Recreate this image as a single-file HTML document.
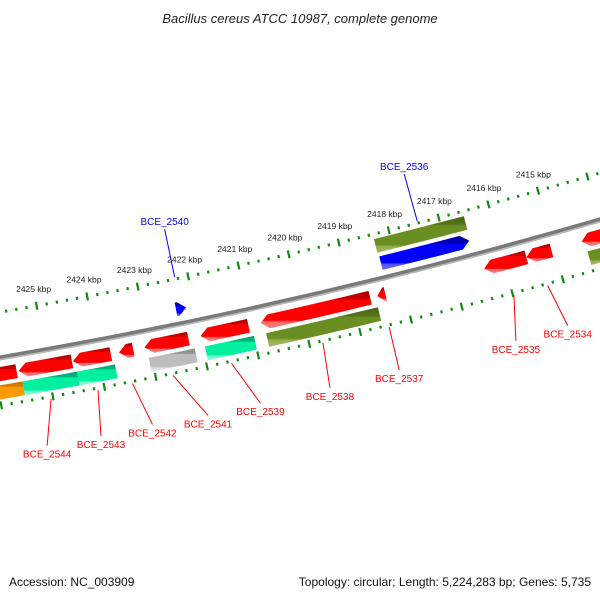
<!DOCTYPE html>
<html><head><meta charset="utf-8"><style>
html,body{margin:0;padding:0;background:#fff;}
svg{display:block;font-family:"Liberation Sans","DejaVu Sans",sans-serif;}
</style></head><body>
<svg id="chart" width="600" height="600" viewBox="0 0 600 600" xmlns="http://www.w3.org/2000/svg">
<defs>
 <linearGradient id="g-red" x1="0" y1="0" x2="0" y2="1"><stop offset="0" stop-color="#b00000"/><stop offset="0.22" stop-color="#c80000"/><stop offset="0.26" stop-color="#ff0000"/><stop offset="0.78" stop-color="#ff0000"/><stop offset="0.84" stop-color="#ff6a6a"/><stop offset="1" stop-color="#ff8080"/></linearGradient>
 <linearGradient id="g-green" x1="0" y1="0" x2="0" y2="1"><stop offset="0" stop-color="#00a46e"/><stop offset="0.22" stop-color="#00b87c"/><stop offset="0.26" stop-color="#00f0a0"/><stop offset="0.78" stop-color="#00f0a0"/><stop offset="0.84" stop-color="#70ffc8"/><stop offset="1" stop-color="#80ffd0"/></linearGradient>
 <linearGradient id="g-olive" x1="0" y1="0" x2="0" y2="1"><stop offset="0" stop-color="#4a6412"/><stop offset="0.22" stop-color="#557318"/><stop offset="0.26" stop-color="#6b8e23"/><stop offset="0.78" stop-color="#6b8e23"/><stop offset="0.84" stop-color="#95b050"/><stop offset="1" stop-color="#a0b860"/></linearGradient>
 <linearGradient id="g-grey" x1="0" y1="0" x2="0" y2="1"><stop offset="0" stop-color="#888"/><stop offset="0.22" stop-color="#999"/><stop offset="0.26" stop-color="#bdbdbd"/><stop offset="0.78" stop-color="#bdbdbd"/><stop offset="0.84" stop-color="#dcdcdc"/><stop offset="1" stop-color="#e6e6e6"/></linearGradient>
 <linearGradient id="g-orange" x1="0" y1="0" x2="0" y2="1"><stop offset="0" stop-color="#c07000"/><stop offset="0.22" stop-color="#d88000"/><stop offset="0.26" stop-color="#ff9900"/><stop offset="0.78" stop-color="#ff9900"/><stop offset="0.84" stop-color="#ffbb55"/><stop offset="1" stop-color="#ffc870"/></linearGradient>
 <linearGradient id="g-blue" x1="0" y1="0" x2="0" y2="1"><stop offset="0" stop-color="#0000a0"/><stop offset="0.22" stop-color="#0000c0"/><stop offset="0.26" stop-color="#0000ff"/><stop offset="0.78" stop-color="#0000ff"/><stop offset="0.84" stop-color="#5555ff"/><stop offset="1" stop-color="#6a6aff"/></linearGradient>
</defs>
<text x="300" y="23" text-anchor="middle" font-size="13" font-style="italic" fill="#222">Bacillus cereus ATCC 10987, complete genome</text>
<g id="ticks"></g>
<g id="backbone"></g>
<g id="genes"></g>
<g id="labels"></g>
<text x="9" y="586" font-size="12" fill="#111">Accession: NC_003909</text>
<text x="591" y="586" text-anchor="end" font-size="12" fill="#111">Topology: circular; Length: 5,224,283 bp; Genes: 5,735</text>
</svg>
<script>
// ---- data ----
const tickLabelKbp = [2415,2416,2417,2418,2419,2420,2421,2422,2423,2424,2425];
const geneNames  = ["", "BCE_2544","BCE_2543","BCE_2542","BCE_2541","BCE_2539","BCE_2538","BCE_2537","BCE_2535","BCE_2534","", "","","","","","","", "BCE_2540","BCE_2536",""];
const geneStarts = [2425600,2424520,2423760,2423320,2422240,2421060,2418660,2418360,2415560,2415060,2413560, 2425520,2424460,2423720,2422160,2421000,2418560,2413560, 2422160,2416540,2416520];
const geneEnds   = [2426560,2425560,2424500,2423600,2423100,2422000,2420820,2418520,2416400,2415560,2414460, 2426560,2425520,2424460,2423060,2421960,2420760,2414400, 2422360,2418300,2418320];
const geneStrand = [-1,-1,-1,-1,-1,-1,-1,-1,-1,-1,-1, 0,0,0,0,0,0,0, 1,1,0];
const geneTrack  = [1,1,1,1,1,1,1,1,1,1,1, 2,2,2,2,2,2,2, -1,-1,-2];
const geneColor  = ["red","red","red","red","red","red","red","red","red","red","red","orange","green","green","grey","green","olive","olive","blue","blue","olive"];
// ---- layout (not data) ----
const labelLayout = {"BCE_2544":[-4,47],"BCE_2543":[3,46],"BCE_2542":[20,41],"BCE_2541":[35,40],"BCE_2539":[29,40],"BCE_2538":[7,45],"BCE_2537":[10,43],"BCE_2535":[2,46],"BCE_2534":[20,40],"BCE_2540":[-10,-48],"BCE_2536":[-13,-47]};
const CX=-910, CY=-4971, R=5406;
const NS="http://www.w3.org/2000/svg";
function theta(bp){return (74.33+(bp-2415000)*0.00055)*Math.PI/180;}
function pt(bp,r){const t=theta(bp);return [CX+r*Math.cos(t),CY+r*Math.sin(t)];}
function mk(tag,attrs,parent){const e=document.createElementNS(NS,tag);for(const k in attrs)e.setAttribute(k,attrs[k]);parent.appendChild(e);return e;}
const trackR={1:R+16,2:R+34,"-1":R-15,"-2":R-33};
// ticks
const gT=document.getElementById('ticks');
[R-45,R+47].forEach((rr,ri)=>{
  for(let bp=2412800;bp<=2427200;bp+=200){
    const major=bp%1000===0;
    const len=major?8:3;
    const a=pt(bp,rr-len/2),b=pt(bp,rr+len/2);
    const ln=mk('line',{x1:a[0],y1:a[1],x2:b[0],y2:b[1],stroke:'#108a10','stroke-width':major?2.2:2.2},gT);
    
    
  }
});
tickLabelKbp.forEach(k=>{
  const p=pt(k*1000,R-62);
  const t=mk('text',{x:p[0],y:p[1]+3,'text-anchor':'middle','font-size':'8.5',fill:'#222'},gT);
  t.textContent=k+' kbp';
  
  
});
// backbone
const gB=document.getElementById('backbone');
const c1=mk('circle',{cx:CX,cy:CY,r:R,fill:'none',stroke:'#7a7a7a','stroke-width':5},gB);


const c2=mk('circle',{cx:CX,cy:CY,r:R+1.8,fill:'none',stroke:'#b8b8b8','stroke-width':1.6},gB);


// genes
const gG=document.getElementById('genes');
const gL=document.getElementById('labels');
for(let i=0;i<geneStarts.length;i++){
  const rc=trackR[geneTrack[i]], h=14, r1=rc-h/2, r2=rc+h/2;
  const lo=geneStarts[i], hi=geneEnds[i];
  const bpPerPx=19.8, head=Math.min(8*bpPerPx,(hi-lo)*0.8);
  let pts=[];
  const s=geneStrand[i];
  const a=(s===-1)?hi-head:hi, b=(s===1)?lo+head:lo;
  const N=4;
  for(let k=0;k<=N;k++)pts.push(pt(a+(b-a)*k/N,r1));
  if(s===1)pts.push(pt(lo,rc));
  for(let k=N;k>=0;k--)pts.push(pt(a+(b-a)*k/N,r2));
  if(s===-1)pts.push(pt(hi,rc));
  const poly=mk('polygon',{points:pts.map(p=>p[0].toFixed(1)+','+p[1].toFixed(1)).join(' '),fill:'url(#g-'+geneColor[i]+')'},gG);
  
  
  const nm=geneNames[i];
  if(nm){
    const off=labelLayout[nm];
    const mid=(lo+hi)/2;
    const st=geneTrack[i]>0?pt(mid,R+49):pt(mid,R-47);
    const en=[st[0]+off[0],st[1]+off[1]];
    const col=geneTrack[i]>0?'#ff0000':'#0000ff';
    const ln=mk('line',{x1:st[0],y1:st[1],x2:en[0],y2:en[1],stroke:col,'stroke-width':1},gL);
    
    
    const tx=mk('text',{x:en[0],y:geneTrack[i]>0?en[1]+12:en[1]-4,'text-anchor':'middle','font-size':'10',fill:col},gL);
    tx.textContent=nm;
    
    
  }
}
</script>
</body></html>
